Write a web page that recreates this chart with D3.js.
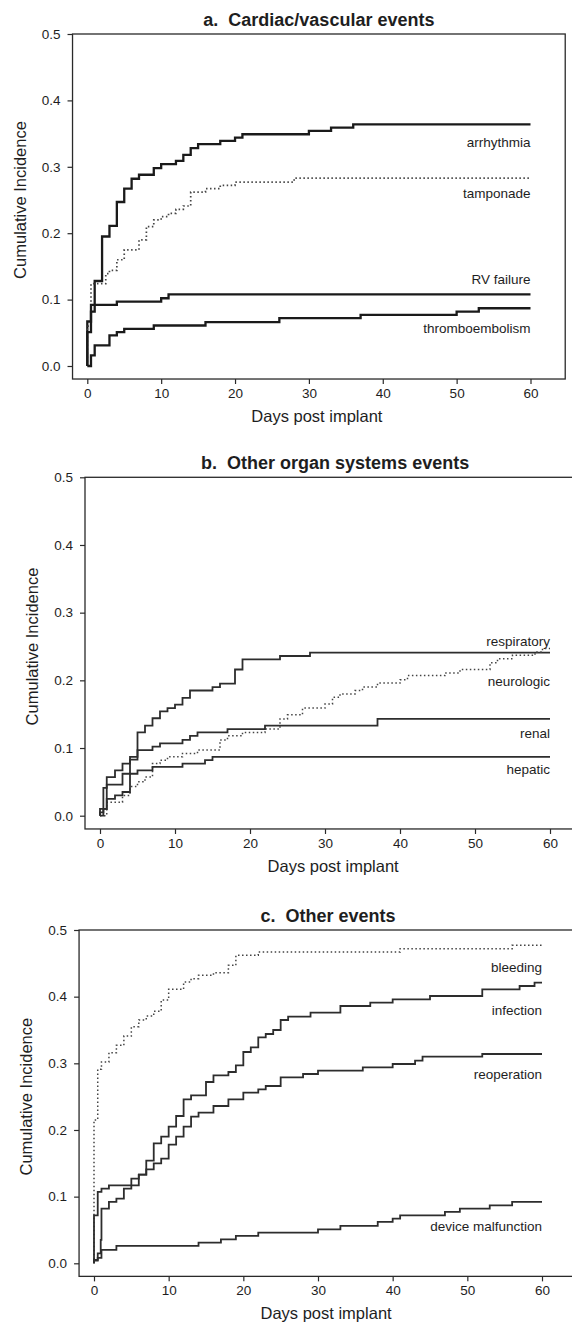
<!DOCTYPE html>
<html><head><meta charset="utf-8">
<script src="https://cdn.jsdelivr.net/npm/d3@7"></script>
<style>
body{margin:0;background:#fff}
svg{display:block}
text{font-family:"Liberation Sans",Arial,Helvetica,sans-serif;fill:#1e1e1e}
</style>
</head><body>
<svg id="chart" width="572" height="1328"></svg>
<script>
// ---------- tick labels ----------
const xTicks = [0, 10, 20, 30, 40, 50, 60];
const yTicks = [0, 0.1, 0.2, 0.3, 0.4, 0.5];
const xTitle = "Days post implant";
const yTitle = "Cumulative Incidence";
const panelTitles = ["a.  Cardiac/vascular events", "b.  Other organ systems events", "c.  Other events"];

// ---------- panel a series: [day, cumulative incidence] ----------
const arrhythmia = [[0,0],[0,0.067],[0.5,0.082],[1,0.128],[2,0.195],[3,0.211],[4,0.247],[5,0.267],[6,0.282],[7,0.288],[9,0.298],[10,0.304],[12,0.309],[13,0.318],[14,0.328],[15,0.334],[18,0.339],[20,0.344],[21,0.349],[30,0.354],[33,0.359],[36,0.364],[60,0.364]];
const tamponade = [[0,0],[0,0.06],[0.5,0.124],[2.5,0.139],[3,0.144],[4,0.16],[5,0.175],[7,0.19],[8,0.21],[9,0.22],[10,0.225],[11,0.23],[12,0.236],[13,0.241],[14,0.262],[16,0.267],[18,0.272],[20,0.277],[28,0.283],[60,0.283]];
const rvFailure = [[0,0],[0,0.051],[0.5,0.092],[4,0.097],[10,0.102],[11,0.108],[60,0.108]];
const thromboembolism = [[0,0],[0.5,0.016],[1,0.031],[3,0.046],[4,0.051],[5,0.056],[9,0.061],[16,0.066],[26,0.072],[37,0.077],[50,0.082],[53,0.087],[60,0.087]];

// ---------- panel b series ----------
const respiratory = [[0,0],[0,0.005],[0.45,0.041],[0.9,0.057],[2,0.067],[3,0.077],[4,0.087],[5,0.123],[6,0.133],[7,0.144],[8,0.154],[9,0.159],[10,0.164],[11,0.174],[12,0.185],[15,0.19],[16,0.195],[18,0.216],[19,0.231],[24,0.236],[28,0.241],[60,0.241]];
const neurologic = [[0,0],[0.9,0.02],[3,0.03],[4,0.043],[5,0.05],[6,0.057],[7,0.077],[8,0.082],[9,0.087],[11,0.092],[13,0.097],[16,0.112],[17,0.118],[19,0.123],[22,0.128],[24,0.143],[25,0.149],[27,0.159],[30,0.165],[31,0.175],[32,0.18],[34,0.185],[35,0.19],[37,0.196],[40,0.201],[41,0.207],[46,0.211],[48,0.216],[52,0.226],[53,0.232],[55,0.237],[58,0.242],[59,0.247],[60,0.247]];
const renal = [[0,0],[0,0.01],[0.9,0.046],[3,0.062],[4,0.083],[5,0.097],[7,0.102],[8,0.107],[11,0.112],[12,0.118],[13,0.123],[17,0.128],[22,0.133],[37,0.143],[60,0.143]];
const hepatic = [[0,0],[0.45,0.01],[0.9,0.025],[2,0.03],[3,0.035],[4,0.062],[5,0.067],[7,0.072],[11,0.077],[14,0.082],[15,0.087],[60,0.087]];

// ---------- panel c series ----------
const bleeding = [[0,0],[0,0.215],[0.5,0.291],[1,0.302],[2,0.316],[3,0.327],[4,0.341],[5,0.355],[6,0.365],[7,0.371],[8,0.378],[9,0.395],[10,0.411],[12,0.422],[13,0.427],[14,0.432],[16,0.436],[18,0.447],[19,0.462],[22,0.467],[41,0.472],[56,0.477],[60,0.477]];
const infection = [[0,0],[0,0.072],[0.5,0.107],[1,0.112],[2,0.117],[6,0.133],[7,0.154],[8,0.18],[9,0.19],[10,0.205],[11,0.221],[12,0.246],[13,0.252],[15,0.272],[16,0.282],[18,0.287],[19,0.297],[20,0.317],[21,0.324],[22,0.339],[23,0.344],[24,0.35],[25,0.365],[26,0.37],[29,0.376],[33,0.386],[37,0.391],[40,0.396],[45,0.401],[52,0.411],[57,0.416],[59,0.421],[60,0.421]];
const reoperation = [[0,0],[0,0.005],[0.5,0.015],[0.9,0.035],[1,0.082],[2,0.092],[3,0.097],[4,0.112],[5,0.127],[6,0.133],[7,0.141],[8,0.15],[9,0.157],[10,0.178],[11,0.19],[12,0.205],[13,0.22],[14,0.226],[16,0.236],[18,0.246],[20,0.256],[22,0.261],[23,0.266],[25,0.279],[28,0.284],[30,0.289],[36,0.294],[40,0.299],[43,0.304],[44,0.31],[52,0.314],[60,0.314]];
const deviceMalfunction = [[0,0],[0,0.004],[0.5,0.008],[1,0.02],[3,0.026],[14,0.031],[17,0.036],[19,0.041],[22,0.046],[30,0.051],[33,0.056],[38,0.062],[40,0.067],[41,0.072],[47,0.077],[49,0.082],[53,0.087],[56,0.092],[60,0.092]];

// ---------- series names / dotted flag / label anchor (incidence level of the text) ----------
const seriesA = [["arrhythmia", arrhythmia, false, 0.337], ["tamponade", tamponade, true, 0.26], ["RV failure", rvFailure, false, 0.13], ["thromboembolism", thromboembolism, false, 0.057]];
const seriesB = [["respiratory", respiratory, false, 0.258], ["neurologic", neurologic, true, 0.199], ["renal", renal, false, 0.122], ["hepatic", hepatic, false, 0.068]];
const seriesC = [["bleeding", bleeding, true, 0.444], ["infection", infection, false, 0.38], ["reoperation", reoperation, false, 0.284], ["device malfunction", deviceMalfunction, false, 0.056]];

// ---------- layout (pixels) ----------
const layouts = [
  {x0: 87.3, x60: 530.5, y0: 366, y5: 34, lw: 2.3, dlw: 1.7, col: "#1a1a1a"},
  {x0: 100,  x60: 550,   y0: 815.7, y5: 477.3, lw: 1.8, dlw: 1.5, col: "#2d2d2d"},
  {x0: 94,   x60: 542,   y0: 1263.3, y5: 930, lw: 1.8, dlw: 1.5, col: "#2d2d2d"}
];
const boxDays = [-2, 64.7];
const boxInc = [-0.0196, 0.5];

const svg = d3.select("#chart");
svg.append("rect").attr("width", 572).attr("height", 1328).attr("fill", "#fff");

const allSeries = [seriesA, seriesB, seriesC];
const fontFam = '"Liberation Sans",Arial,sans-serif';

allSeries.forEach((series, i) => {
  const L = layouts[i];
  const x = d3.scaleLinear().domain([0, 60]).range([L.x0, L.x60]);
  const y = d3.scaleLinear().domain([0, 0.5]).range([L.y0, L.y5]);
  const g = svg.append("g");

  const bx0 = x(boxDays[0]), bx1 = x(boxDays[1]);
  const by0 = y(boxInc[1]), by1 = y(boxInc[0]);

  // box
  g.append("rect")
    .attr("x", bx0).attr("y", by0)
    .attr("width", bx1 - bx0).attr("height", by1 - by0)
    .attr("fill", "none").attr("stroke", "#2a2a2a").attr("stroke-width", 1.3);

  // x axis
  const xAxis = g.append("g").attr("transform", `translate(0,${by1})`)
    .call(d3.axisBottom(x).tickValues(xTicks).tickSize(5).tickPadding(4).tickFormat(d3.format("d")));
  xAxis.select(".domain").remove();
  xAxis.selectAll("line").attr("stroke", "#2a2a2a").attr("stroke-width", 1.2);
  xAxis.selectAll("text").style("font-size", "13.5px").attr("fill", "#1e1e1e").style("font-family", fontFam);

  // y axis
  const yAxis = g.append("g").attr("transform", `translate(${bx0},0)`)
    .call(d3.axisLeft(y).tickValues(yTicks).tickSize(5).tickPadding(7).tickFormat(d3.format(".1f")));
  yAxis.select(".domain").remove();
  yAxis.selectAll("line").attr("stroke", "#2a2a2a").attr("stroke-width", 1.2);
  yAxis.selectAll("text").style("font-size", "13.5px").attr("fill", "#1e1e1e").style("font-family", fontFam);

  // titles
  g.append("text").attr("x", (bx0 + bx1) / 2).attr("y", by0 - 8)
    .attr("text-anchor", "middle").style("font-size", "18px").style("font-weight", "bold")
    .style("white-space", "pre").text(panelTitles[i]);
  g.append("text").attr("x", (bx0 + bx1) / 2 - 2).attr("y", by1 + 43)
    .attr("text-anchor", "middle").style("font-size", "16.5px").text(xTitle);
  g.append("text").attr("transform", `translate(${bx0 - 47},${(y(0) + y(0.5)) / 2}) rotate(-90)`)
    .attr("text-anchor", "middle").style("font-size", "16.5px").text(yTitle);

  // curves
  const line = d3.line().x(d => x(d[0])).y(d => y(d[1])).curve(d3.curveStepAfter);
  series.forEach(([name, data, dotted, labY]) => {
    g.append("path").datum(data).attr("d", line)
      .attr("fill", "none")
      .attr("stroke", dotted ? "#444" : L.col)
      .attr("stroke-width", dotted ? L.dlw : L.lw)
      .attr("stroke-dasharray", dotted ? "1.5,2.5" : null)
      .attr("stroke-linejoin", "miter");
    g.append("text").attr("x", x(60)).attr("y", y(labY)).attr("dy", "0.35em")
      .attr("text-anchor", "end").style("font-size", "13.5px").text(name);
  });
});
</script>
</body></html>
